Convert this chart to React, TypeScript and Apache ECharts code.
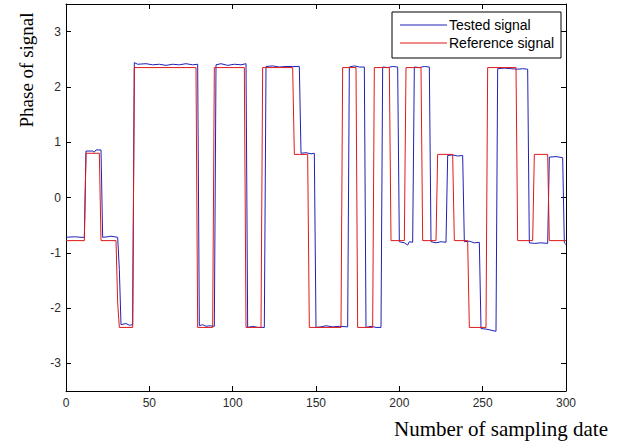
import React, { useEffect, useRef } from "react";
import * as echarts from "echarts";

// Phase of the tested signal vs. the reference signal, per sampling index.
const X_TICKS = [0, 50, 100, 150, 200, 250, 300];
const Y_TICKS = [-3, -2, -1, 0, 1, 2, 3];

// Vertices of the reference (red) step signal: [sample, phase]
const referenceSignal: [number, number][] = [
  [0, -0.78], [11, -0.78], [12, 0.8], [20, 0.8], [21, -0.78], [30, -0.78],
  [31, -1.9], [32, -2.35], [40, -2.35], [41, 2.35], [78, 2.35], [79, -2.35],
  [88, -2.35], [89, 2.35], [107, 2.35], [108, -2.35], [117, -2.35], [118, 2.35],
  [136, 2.35], [137, 0.78], [145, 0.78], [146, -2.35], [165, -2.35], [166, 2.35],
  [174, 2.35], [175, -2.35], [184, -2.35], [185, 2.35], [194, 2.35], [195, -0.78],
  [203, -0.78], [204, 2.35], [213, 2.35], [214, -0.78], [222, -0.78], [223, 0.78],
  [232, 0.78], [233, -0.78], [241, -0.78], [242, -2.35], [252, -2.35], [253, 2.35],
  [270, 2.35], [271, -0.78], [280, -0.78], [281, 0.78], [289, 0.78], [290, -0.78],
  [300, -0.78],
];

// Vertices of the tested (blue) signal, lagging a few samples with small jitter
const testedSignal: [number, number][] = [
  [0, -0.72], [5, -0.71], [9, -0.72], [11, -0.72], [12, 0.84], [16, 0.84],
  [17, 0.82], [18, 0.86], [21, 0.86], [22, -0.72], [25, -0.71], [27, -0.7],
  [31, -0.72], [32, -1.3], [33, -2.3], [36, -2.28], [38, -2.31], [40, -2.3],
  [41, 2.44], [43, 2.41], [48, 2.42], [52, 2.4], [56, 2.41], [60, 2.39],
  [64, 2.41], [68, 2.4], [72, 2.42], [76, 2.4], [79, 2.41], [80, -2.32],
  [82, -2.3], [84, -2.33], [86, -2.32], [89, -2.33], [90, 2.4], [93, 2.42],
  [97, 2.39], [101, 2.41], [105, 2.4], [108, 2.42], [109, -2.35], [112, -2.33],
  [115, -2.35], [119, -2.35], [120, 2.37], [124, 2.38], [128, 2.36], [132, 2.37],
  [136, 2.37], [140, 2.37], [141, 0.8], [144, 0.81], [147, 0.79], [149, 0.8],
  [150, -2.35], [153, -2.34], [156, -2.32], [160, -2.34], [164, -2.33], [169, -2.34],
  [170, 2.36], [173, 2.38], [176, 2.36], [179, 2.36], [180, -2.35], [183, -2.33],
  [186, -2.35], [189, -2.35], [190, 2.36], [193, 2.35], [196, 2.37], [199, 2.36],
  [200, -0.8], [203, -0.82], [205, -0.86], [206, -0.8], [208, -0.81], [209, 2.36],
  [212, 2.35], [215, 2.37], [218, 2.36], [219, -0.8], [222, -0.82], [225, -0.8],
  [228, -0.81], [229, 0.76], [232, 0.77], [235, 0.75], [238, 0.76], [239, -0.8],
  [242, -0.79], [245, -0.82], [248, -0.81], [249, -2.37], [252, -2.38], [255, -2.4],
  [258, -2.42], [259, 2.33], [263, 2.34], [267, 2.33], [271, 2.32], [274, 2.33],
  [277, 2.32], [278, -0.82], [281, -0.83], [285, -0.82], [289, -0.83], [290, 0.73],
  [294, 0.74], [298, 0.72], [299, -0.82], [300, -0.85],
];

const SANS = "'Liberation Sans', Arial, sans-serif";
const SERIF = "'Liberation Serif', 'Times New Roman', serif";
const BLUE = "#2020b8";
const RED = "#e01818";

export default function App() {
  const ref = useRef<HTMLDivElement>(null);

  useEffect(() => {
    if (!ref.current) return;
    const chart = echarts.init(ref.current, undefined, { renderer: "svg" });

    const boxAxisX = (position: "bottom" | "top", labels: boolean) => ({
      type: "value" as const,
      position,
      min: X_TICKS[0],
      max: X_TICKS[X_TICKS.length - 1],
      interval: 50,
      splitLine: { show: false },
      axisLine: { show: true, onZero: false, lineStyle: { color: "#000", width: 1 } },
      axisTick: { show: true, inside: true, length: 5, lineStyle: { color: "#000" } },
      axisLabel: {
        show: labels,
        margin: 6,
        color: "#2a2a2a",
        fontSize: 12,
        fontFamily: SANS,
      },
    });

    const boxAxisY = (position: "left" | "right", labels: boolean) => ({
      type: "value" as const,
      position,
      min: -3.5,
      max: 3.5,
      splitLine: { show: false },
      axisLine: { show: true, onZero: false, lineStyle: { color: "#000", width: 1 } },
      axisTick: {
        show: true,
        inside: true,
        length: 5,
        customValues: Y_TICKS,
        lineStyle: { color: "#000" },
      },
      axisLabel: {
        show: labels,
        margin: 5,
        color: "#2a2a2a",
        fontSize: 12,
        fontFamily: SANS,
        customValues: Y_TICKS,
      },
    });

    chart.setOption({
      animation: false,
      backgroundColor: "#fff",
      grid: {
        left: 66,
        right: 57,
        top: 4,
        bottom: 54,
        containLabel: false,
        outerBoundsMode: "none",
      },
      xAxis: [boxAxisX("bottom", true), boxAxisX("top", false)],
      yAxis: [boxAxisY("left", true), boxAxisY("right", false)],
      series: [
        {
          name: "Tested signal",
          type: "line",
          xAxisIndex: 0,
          yAxisIndex: 0,
          data: testedSignal,
          symbol: "none",
          showSymbol: false,
          lineStyle: { color: BLUE, width: 1 },
        },
        {
          name: "Reference signal",
          type: "line",
          xAxisIndex: 0,
          yAxisIndex: 0,
          data: referenceSignal,
          symbol: "none",
          showSymbol: false,
          lineStyle: { color: RED, width: 1 },
        },
      ],
      graphic: [
        // legend box
        {
          type: "rect",
          shape: { x: 392, y: 12, width: 169, height: 46 },
          style: { fill: "#fff", stroke: "#000", lineWidth: 1 },
          z: 10,
        },
        {
          type: "line",
          shape: { x1: 400, y1: 25, x2: 447, y2: 25 },
          style: { stroke: BLUE, lineWidth: 1 },
          z: 11,
        },
        {
          type: "line",
          shape: { x1: 400, y1: 43, x2: 447, y2: 43 },
          style: { stroke: RED, lineWidth: 1 },
          z: 11,
        },
        {
          type: "text",
          x: 449,
          y: 25,
          style: {
            text: "Tested signal",
            fill: "#000",
            font: `14px ${SANS}`,
            textAlign: "left",
            textVerticalAlign: "middle",
          },
          z: 11,
        },
        {
          type: "text",
          x: 449,
          y: 43,
          style: {
            text: "Reference signal",
            fill: "#000",
            font: `14px ${SANS}`,
            textAlign: "left",
            textVerticalAlign: "middle",
          },
          z: 11,
        },
        // axis titles
        {
          type: "text",
          x: 608,
          y: 429,
          style: {
            text: "Number of sampling date",
            fill: "#000",
            font: `21px ${SERIF}`,
            textAlign: "right",
            textVerticalAlign: "middle",
          },
        },
        {
          type: "text",
          x: 26,
          y: 70,
          rotation: Math.PI / 2,
          style: {
            text: "Phase of signal",
            fill: "#000",
            font: `19px ${SERIF}`,
            textAlign: "center",
            textVerticalAlign: "middle",
          },
        },
      ],
    });

    return () => chart.dispose();
  }, []);

  return (
    <div
      ref={ref}
      style={{ position: "fixed", left: 0, top: 0, width: 623, height: 445 }}
    />
  );
}
